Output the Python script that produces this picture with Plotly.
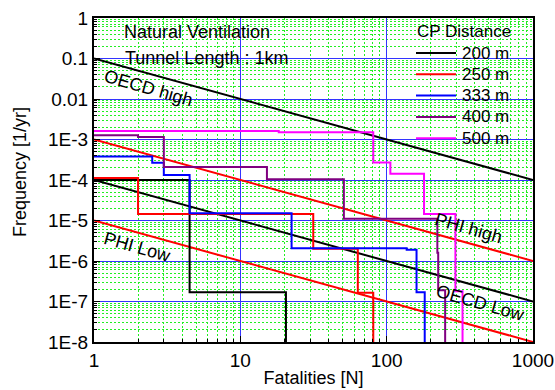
import plotly.graph_objects as go

# --- data ---
series_names = ["200 m", "250 m", "333 m", "400 m", "500 m"]
series_colors = ["#000000", "#ff0000", "#0000ff", "#800080", "#ff00ff"]

x_200 = [1, 4.5, 20.5]
y_200 = [1.0e-4, 1.7e-7, 1e-9]

x_250 = [1, 2.0, 31.5, 63.5, 81]
y_250 = [1.12e-4, 1.45e-5, 2.0e-6, 1.65e-7, 1e-9]

x_333 = [1, 2.5, 3.0, 4.5, 22.4, 137, 160, 182]
y_333 = [3.8e-4, 2.65e-4, 1.33e-4, 1.5e-5, 2.05e-6, 1.9e-6, 1.7e-7, 1e-9]

x_400 = [1, 2.0, 3.0, 15.2, 51, 222, 225, 251]
y_400 = [1.28e-3, 1.16e-3, 2.1e-4, 1.04e-4, 1.1e-5, 1.6e-6, 1.9e-7, 1e-9]

x_500 = [1, 18.3, 81, 106, 180, 295, 330]
y_500 = [1.62e-3, 1.5e-3, 2.7e-4, 1.42e-4, 1.45e-5, 1.8e-7, 1e-9]

crit_x = [1, 1000]
oecd_high = [1e-1, 1e-4]
oecd_low = [1e-4, 1e-7]
phi_high = [1e-3, 1e-6]
phi_low = [1e-5, 1e-8]

y_tickvals = [1, 0.1, 0.01, 1e-3, 1e-4, 1e-5, 1e-6, 1e-7, 1e-8]
y_ticktext = ["1", "0.1", "0.01", "1E-3", "1E-4", "1E-5", "1E-6", "1E-7", "1E-8"]
x_tickvals = [1, 10, 100, 1000]
x_ticktext = ["1", "10", "100", "1000"]

FONT = "Liberation Sans, Arial, sans-serif"

fig = go.Figure()

# criteria lines
for yy, col in [(oecd_high, "#000000"), (oecd_low, "#000000"),
                (phi_high, "#ff0000"), (phi_low, "#ff0000")]:
    fig.add_trace(go.Scatter(x=crit_x, y=yy, mode="lines",
                             line=dict(color=col, width=2),
                             showlegend=False, hoverinfo="skip"))

steps = [(x_200, y_200), (x_250, y_250), (x_333, y_333), (x_400, y_400), (x_500, y_500)]
for (xs, ys), name, col in zip(steps, series_names, series_colors):
    fig.add_trace(go.Scatter(x=xs, y=ys, mode="lines", name=name, showlegend=False,
                             line=dict(color=col, width=2, shape="hv")))

grid_minor = dict(dtick="D1", showgrid=True, gridcolor="#22ee22", griddash="2px,2px",
                  gridwidth=1, ticks="inside", ticklen=3, tickcolor="black", tickwidth=1)

fig.update_xaxes(type="log", range=[0, 3], tickvals=x_tickvals, ticktext=x_ticktext,
                 showgrid=True, gridcolor="#3333ff", gridwidth=1, automargin=False,
                 ticks="inside", ticklen=6, tickcolor="black", tickwidth=1,
                 showline=True, linecolor="black", linewidth=2, mirror=True,
                 minor=grid_minor, zeroline=False,
                 tickfont=dict(family=FONT, size=19, color="black"),
                 title=dict(text="Fatalities [N]", font=dict(family=FONT, size=18, color="black"),
                            standoff=2))
fig.update_yaxes(type="log", range=[-8, 0], tickvals=y_tickvals, ticktext=y_ticktext,
                 showgrid=True, gridcolor="#3333ff", gridwidth=1, automargin=False,
                 ticks="inside", ticklen=6, tickcolor="black", tickwidth=1,
                 showline=True, linecolor="black", linewidth=2, mirror=True,
                 minor=grid_minor, zeroline=False,
                 tickfont=dict(family=FONT, size=19, color="black"))

fig.update_layout(
    width=555, height=390,
    margin=dict(l=94, r=22, t=18, b=48),
    paper_bgcolor="white", plot_bgcolor="white",
    font=dict(family=FONT, size=17, color="black"),
    showlegend=False,
)

# pixel -> paper helpers
L, R, T, B = 94, 533, 18, 342
def px(xp):
    return (xp - L) / (R - L)
def py(yp):
    return 1 - (yp - T) / (B - T)

# y-axis title
fig.add_annotation(text="Frequency [1/yr]", x=px(20), y=py(172), xref="paper", yref="paper",
                   xanchor="center", yanchor="middle", showarrow=False, textangle=-90,
                   font=dict(family=FONT, size=18, color="black"))

ann_font = dict(family=FONT, size=18, color="black")
for text, xx, yy in [("Natural Ventilation", 122, 32), ("Tunnel Length : 1km", 123, 58)]:
    fig.add_annotation(text=text, x=px(xx), y=py(yy), xref="paper", yref="paper",
                       xanchor="left", yanchor="middle", showarrow=False, font=ann_font)

for t, xx, yy in [("OECD high", 148, 88), ("PHI Low", 137, 247),
                  ("PHI high", 468, 228), ("OECD Low", 480, 303)]:
    fig.add_annotation(text=t, x=px(xx), y=py(yy), xref="paper", yref="paper",
                       xanchor="center", yanchor="middle", showarrow=False,
                       textangle=16, font=ann_font)

# legend (title + entries)
leg_font = dict(family=FONT, size=17, color="black")
fig.add_annotation(text="CP Distance", x=px(415), y=py(32), xref="paper", yref="paper",
                   xanchor="left", yanchor="middle", showarrow=False, font=leg_font)
for i, (name, col) in enumerate(zip(series_names, series_colors)):
    yc = 53 + i * 21.3
    fig.add_shape(type="line", xref="paper", yref="paper",
                  x0=px(416), x1=px(456), y0=py(yc), y1=py(yc),
                  line=dict(color=col, width=2))
    fig.add_annotation(text=name, x=px(460), y=py(yc), xref="paper", yref="paper",
                       xanchor="left", yanchor="middle", showarrow=False, font=leg_font)

fig.write_html("out.html")
